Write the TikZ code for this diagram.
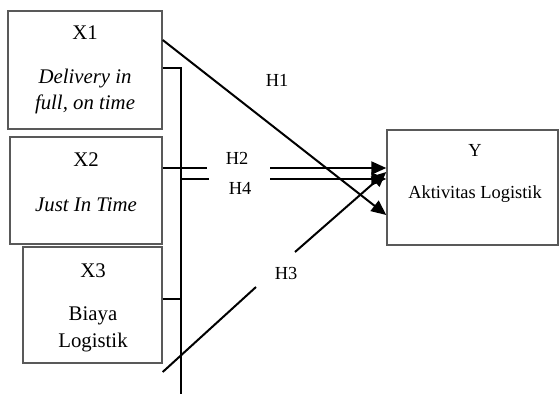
\documentclass[tikz,border=0pt]{standalone}
\usepackage{fontspec}
\setmainfont{Liberation Serif}
\usetikzlibrary{arrows.meta}

\begin{document}
\begin{tikzpicture}[x=0.5pt,y=-0.5pt,
	kotak/.style={draw=black!65, line width=0.7pt, inner sep=0pt},
	teks/.style={anchor=base, inner sep=0pt, font=\fontsize{10.4}{12}\selectfont},
	hipo/.style={anchor=base, inner sep=0pt, font=\fontsize{9.2}{11}\selectfont},
	garis/.style={line width=1pt},
	panah/.style={line width=1pt, -{Triangle[length=7.5pt,width=6.5pt]}},
	jalur/.style={line width=0.75pt}]
	\useasboundingbox (0,0) rectangle (560,394);
	%kotak variabel
	\node[kotak, minimum width=77pt, minimum height=59pt] (x1) at (85,70) {};
	\node[kotak, minimum width=76pt, minimum height=53.5pt] (x2) at (86,190.5) {};
	\node[kotak, minimum width=69.5pt, minimum height=58pt] (x3) at (92.5,305) {};
	\node[kotak, minimum width=85.5pt, minimum height=57.5pt] (y) at (472.5,187.5) {};
	%isi kotak
	\node[teks] (x1judul) at (85,40) {X1};
	\node[teks] (x1a) at (85,84) {\itshape Delivery in};
	\node[teks] (x1b) at (85,110) {\itshape full, on time};
	\node[teks] (x2judul) at (86,167) {X2};
	\node[teks] (x2a) at (86,212) {\itshape Just In Time};
	\node[teks] (x3judul) at (93,278) {X3};
	\node[teks] (x3a) at (93,321) {Biaya};
	\node[teks] (x3b) at (93,347) {Logistik};
	\node[hipo] (yjudul) at (475,157) {Y};
	\node[hipo] (ya) at (475,199) {Aktivitas Logistik};
	%fin
	%garis penghubung
	\coordinate (busatas) at (181,68);
	\coordinate (busbawah) at (181,394);
	\coordinate (bus3) at (181,299);
	\draw[jalur] (x1.east |- busatas) -- (busatas) -- (busbawah);
	\draw[jalur] (x3.east |- bus3) -- (bus3);
	%H1
	\draw[panah] (x1.east |- 0,40) -- (y.west |- 0,215);
	\node[hipo] (h1) at (277,87) {H1};
	%H2
	\coordinate (h2a) at (207,168);
	\coordinate (h2b) at (270,168);
	\draw[garis] (x2.east |- h2a) -- (h2a);
	\draw[panah] (h2b) -- (y.west |- h2b);
	\node[hipo] (h2) at (237,165) {H2};
	%H4
	\coordinate (h4a) at (209,179);
	\coordinate (h4b) at (270,179);
	\draw[garis] (busatas |- h4a) -- (h4a);
	\draw[panah] (h4b) -- (y.west |- h4b);
	\node[hipo] (h4) at (240,195) {H4};
	%H3
	\coordinate (h3a) at (256,287);
	\coordinate (h3b) at (295,252);
	\draw[garis] (x3.east |- 0,372) -- (h3a);
	\draw[panah] (h3b) -- (y.west |- 0,172);
	\node[hipo] (h3) at (286,279) {H3};
\end{tikzpicture}
\end{document}
